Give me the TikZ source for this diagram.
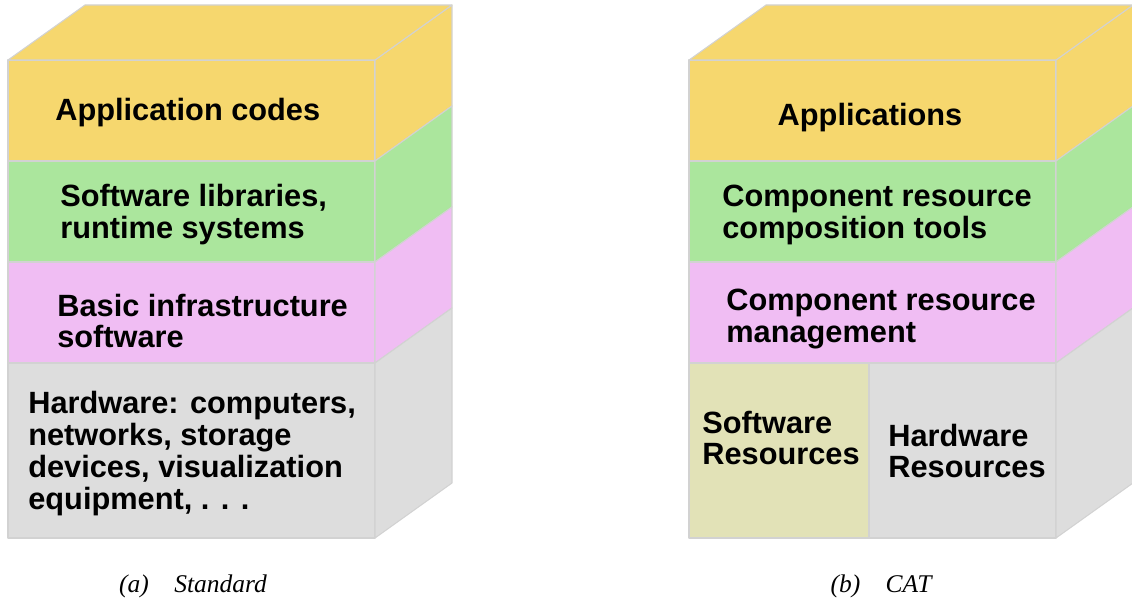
\documentclass[tikz,border=0pt]{standalone}
\usepackage{fontspec}
\setmainfont{Liberation Serif}
\setsansfont{Liberation Sans}

\definecolor{appyellow}{HTML}{F6D76E}
\definecolor{libgreen}{HTML}{ABE69D}
\definecolor{infpink}{HTML}{F0BDF3}
\definecolor{hwgray}{HTML}{DDDDDD}
\definecolor{swbeige}{HTML}{E2E2B7}
\definecolor{edgegray}{HTML}{D2D2D2}

\begin{document}
\begin{tikzpicture}[
    face/.style={draw=edgegray, line width=0.6pt, line join=round},
    layertext/.style={anchor=west, align=left, inner sep=0pt,
        font=\sffamily\bfseries\fontsize{17.5}{18.2}\selectfont},
    caption/.style={inner sep=0pt, font=\itshape\fontsize{14.5}{16}\selectfont}
]
\useasboundingbox (0,0) rectangle (22.64,12);

% Standard stack
\path[face, fill=appyellow] (0.16,8.78) rectangle (7.5,10.8);
\path[face, fill=libgreen] (0.16,6.76) rectangle (7.5,8.78);
\path[face, fill=infpink] (0.16,4.74) rectangle (7.5,6.76);
\path[face, fill=hwgray] (0.16,1.24) rectangle (7.5,4.74);
% side and top
\path[face, fill=appyellow] (7.5,8.78) -- (7.5,10.8) -- (9.04,11.9) -- (9.04,9.88) -- cycle;
\path[face, fill=libgreen] (7.5,6.76) -- (7.5,8.78) -- (9.04,9.88) -- (9.04,7.86) -- cycle;
\path[face, fill=infpink] (7.5,4.74) -- (7.5,6.76) -- (9.04,7.86) -- (9.04,5.84) -- cycle;
\path[face, fill=hwgray] (7.5,1.24) -- (7.5,4.74) -- (9.04,5.84) -- (9.04,2.34) -- cycle;
\path[face, fill=appyellow] (0.16,10.8) -- (1.7,11.9) -- (9.04,11.9) -- (7.5,10.8) -- cycle;

% CAT stack
\begin{scope}[xshift=13.62cm]
\path[face, fill=appyellow] (0.16,8.78) rectangle (7.5,10.8);
\path[face, fill=libgreen] (0.16,6.76) rectangle (7.5,8.78);
\path[face, fill=infpink] (0.16,4.74) rectangle (7.5,6.76);
\path[face, fill=swbeige] (0.16,1.24) rectangle (3.76,4.74);
\path[face, fill=hwgray] (3.76,1.24) rectangle (7.5,4.74);
% side and top
\path[face, fill=appyellow] (7.5,8.78) -- (7.5,10.8) -- (9.04,11.9) -- (9.04,9.88) -- cycle;
\path[face, fill=libgreen] (7.5,6.76) -- (7.5,8.78) -- (9.04,9.88) -- (9.04,7.86) -- cycle;
\path[face, fill=infpink] (7.5,4.74) -- (7.5,6.76) -- (9.04,7.86) -- (9.04,5.84) -- cycle;
\path[face, fill=hwgray] (7.5,1.24) -- (7.5,4.74) -- (9.04,5.84) -- (9.04,2.34) -- cycle;
\path[face, fill=appyellow] (0.16,10.8) -- (1.7,11.9) -- (9.04,11.9) -- (7.5,10.8) -- cycle;
\end{scope}

% Layer labels
\node[layertext] (appcodes) at (1.1,9.75) {Application codes};
\node[layertext] (swlibs) at (1.2,7.71) {Software libraries,\\runtime systems};
\node[layertext] (infra) at (1.14,5.58) {Basic infrastructure\\software};
\node[layertext] (hwall) at (0.56,2.92) {Hardware: computers,\\networks, storage\\devices, visualization\\equipment, . . .};

\node[layertext, anchor=center] (apps) at (17.4,9.64) {Applications};
\node[layertext] (comptools) at (14.44,7.7) {Component resource\\composition tools};
\node[layertext] (compmgmt) at (14.52,5.62) {Component resource\\management};
\node[layertext] (swres) at (14.04,3.24) {Software\\Resources};
\node[layertext] (hwres) at (17.76,2.98) {Hardware\\Resources};

% Captions
\node[caption] (capa) at (3.86,0.28) {(a)\quad Standard};
\node[caption] (capb) at (17.62,0.28) {(b)\quad CAT};

\end{tikzpicture}
\end{document}
